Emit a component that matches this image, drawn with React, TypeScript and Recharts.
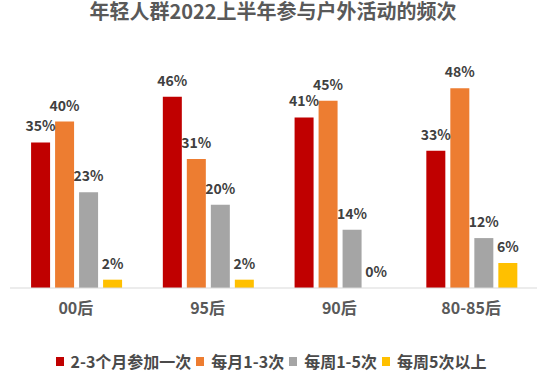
import { BarChart, Bar, XAxis, YAxis, Legend, LabelList } from 'recharts';

const categories = ['00后', '95后', '90后', '80-85后'];
const everyTwoThreeMonths = [35, 46, 41, 33];
const monthlyOneToThree = [40, 31, 45, 48];
const weeklyOneToFive = [23, 20, 14, 12];
const weeklyFivePlus = [2, 2, 0, 6];

const series = [
  { key: 'a', name: '2-3个月参加一次', values: everyTwoThreeMonths, color: '#C00000' },
  { key: 'b', name: '每月1-3次', values: monthlyOneToThree, color: '#ED7D31' },
  { key: 'c', name: '每周1-5次', values: weeklyOneToFive, color: '#A5A5A5' },
  { key: 'd', name: '每周5次以上', values: weeklyFivePlus, color: '#FFC000' },
];

const chartData = categories.map((name, i) => {
  const row: Record<string, string | number> = { name };
  series.forEach((s) => {
    row[s.key] = s.values[i];
  });
  return row;
});

const font = '"Noto Sans CJK SC", "Noto Sans", sans-serif';

function LegendRow() {
  return (
    <div style={{ display: 'flex', justifyContent: 'center', alignItems: 'center', height: 20 }}>
      {series.map((s) => (
        <div key={s.key} style={{ display: 'flex', alignItems: 'center', marginRight: 5 }}>
          <span style={{ width: 8, height: 9, background: s.color, marginRight: 7, display: 'inline-block' }} />
          <span style={{ fontSize: 16, fontWeight: 700, color: '#4a4a4a', lineHeight: '20px' }}>{s.name}</span>
        </div>
      ))}
    </div>
  );
}

// custom label so a zero-height bar still gets its "0%"
function ValueLabel(props: any) {
  const { x, y, width, value } = props;
  if (value == null) return null;
  return (
    <text
      x={Number(x) + Number(width) / 2}
      y={Number(y) - 11}
      textAnchor="middle"
      fill="#404040"
      fontSize={14}
      fontWeight={700}
    >
      {`${value}%`}
    </text>
  );
}

export default function App() {
  return (
    <div style={{ position: 'absolute', left: 0, top: 0, width: 543, height: 373, background: '#fff', fontFamily: font }}>
      <BarChart
        width={543}
        height={373}
        data={chartData}
        margin={{ top: 80, right: 6, left: 10, bottom: 2 }}
        barCategoryGap="16%"
        barGap={5}
      >
        <text x={273} y={19} textAnchor="middle" fill="#595959" fontSize={20} fontWeight={700}>
          年轻人群2022上半年参与户外活动的频次
        </text>
        <XAxis
          dataKey="name"
          tickLine={false}
          axisLine={{ stroke: '#D9D9D9' }}
          tickMargin={9}
          height={63}
          tick={{ fill: '#595959', fontSize: 16, fontWeight: 700 }}
        />
        <YAxis hide domain={[0, 50]} />
        <Legend verticalAlign="bottom" content={() => <LegendRow />} />
        {series.map((s) => (
          <Bar key={s.key} dataKey={s.key} name={s.name} fill={s.color} minPointSize={0.01} isAnimationActive={false}>
            <LabelList dataKey={s.key} position="top" content={ValueLabel} />
          </Bar>
        ))}
      </BarChart>
    </div>
  );
}
